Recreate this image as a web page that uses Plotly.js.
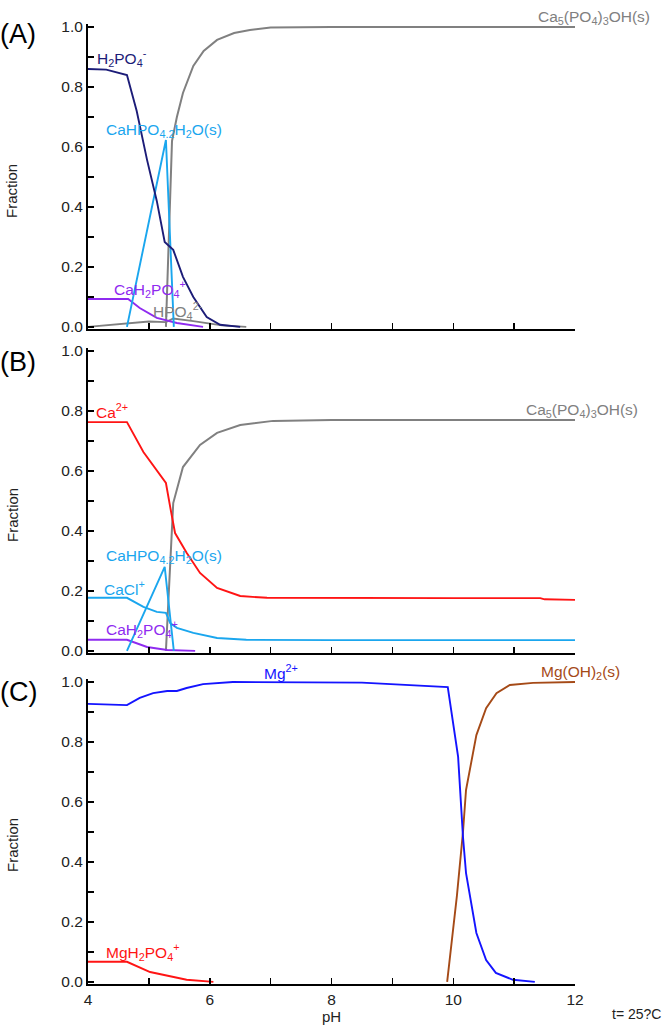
<!DOCTYPE html>
<html>
<head>
<meta charset="utf-8">
<script src="https://cdn.plot.ly/plotly-3.0.1.min.js"></script>
<style>html,body{margin:0;padding:0;background:#fff;}#chart{width:666px;height:1026px;}</style>
</head>
<body>
<div id="chart"></div>
<script>
// ---------- Panel A ----------
const aCa5pH   = [5.28, 5.33, 5.38, 5.46, 5.56, 5.73, 5.9, 6.12, 6.4, 6.66, 7.0, 8, 10, 12];
const aCa5     = [0, 0.35, 0.62, 0.70, 0.78, 0.87, 0.92, 0.957, 0.98, 0.99, 0.998, 1.0, 1.0, 1.0];
const aH2PO4pH = [4, 4.3, 4.64, 4.80, 4.97, 5.13, 5.26, 5.40, 5.56, 5.73, 5.95, 6.17, 6.5];
const aH2PO4   = [0.86, 0.858, 0.84, 0.72, 0.557, 0.42, 0.283, 0.257, 0.167, 0.10, 0.033, 0.007, 0];
const aBrushpH = [4.64, 5.28, 5.41];
const aBrush   = [0, 0.623, 0];
const aCaH2pH  = [4, 4.66, 4.85, 5.13, 5.46, 5.89];
const aCaH2    = [0.093, 0.093, 0.063, 0.03, 0.013, 0];
const aHPO4pH  = [4, 4.64, 5.0, 5.28, 5.4, 5.7, 6.2, 6.6];
const aHPO4    = [0, 0.013, 0.018, 0.016, 0.028, 0.02, 0.005, 0];

// ---------- Panel B ----------
const bCapH    = [4, 4.64, 4.91, 5.13, 5.28, 5.35, 5.43, 5.62, 5.84, 6.12, 6.5, 6.94, 8, 10, 11.43, 11.5, 12];
const bCa      = [0.763, 0.763, 0.663, 0.603, 0.56, 0.48, 0.393, 0.327, 0.26, 0.21, 0.183, 0.177, 0.176, 0.176, 0.176, 0.172, 0.17];
const bCa5pH   = [5.28, 5.34, 5.40, 5.56, 5.84, 6.12, 6.5, 7.04, 8, 10, 12];
const bCa5     = [0, 0.25, 0.493, 0.613, 0.687, 0.727, 0.753, 0.767, 0.77, 0.77, 0.77];
const bBrushpH = [4.64, 5.26, 5.41];
const bBrush   = [0, 0.28, 0];
const bCaClpH  = [4, 4.64, 4.91, 5.13, 5.28, 5.35, 5.46, 5.73, 6.12, 6.6, 8, 12];
const bCaCl    = [0.177, 0.177, 0.147, 0.13, 0.127, 0.093, 0.077, 0.06, 0.043, 0.037, 0.036, 0.036];
const bCaH2pH  = [4, 4.64, 4.97, 5.3, 5.76];
const bCaH2    = [0.037, 0.037, 0.013, 0.003, 0];

// ---------- Panel C ----------
const cMgpH    = [4, 4.64, 4.85, 5.07, 5.3, 5.46, 5.62, 5.89, 6.38, 7, 8, 8.5, 9.91, 10.08, 10.16, 10.21, 10.38, 10.54, 10.70, 10.98, 11.34];
const cMg      = [0.927, 0.923, 0.947, 0.963, 0.97, 0.97, 0.98, 0.993, 1.0, 1.0, 1.0, 0.998, 0.983, 0.75, 0.483, 0.363, 0.163, 0.073, 0.03, 0.007, 0];
const cMgOHpH  = [9.90, 10.06, 10.16, 10.21, 10.38, 10.54, 10.71, 10.93, 11.31, 12];
const cMgOH    = [0, 0.287, 0.5, 0.64, 0.823, 0.913, 0.963, 0.99, 0.997, 1.0];
const cMgH2pH  = [4, 4.64, 5.02, 5.3, 5.62, 6.06];
const cMgH2    = [0.067, 0.067, 0.033, 0.02, 0.007, 0];

const xTickVals = [4, 6, 8, 10, 12];
const xTickText = ['4', '6', '8', '10', '12'];
const yTickVals = [0, 0.2, 0.4, 0.6, 0.8, 1.0];
const yTickText = ['0.0', '0.2', '0.4', '0.6', '0.8', '1.0'];

const NAVY = '#1c1c78', SKY = '#1aa6ee', PURPLE = '#8f2bf0', GRAY = '#808080',
      RED = '#ff1414', BLUE = '#1414ff', BROWN = '#a54a17';
const FONT = 'Liberation Sans, Arial, sans-serif';
const LBL = 15.5;

function line(x, y, color, xa, ya, w) {
  return {x: x, y: y, type: 'scatter', mode: 'lines', xaxis: xa, yaxis: ya,
          line: {color: color, width: w || 1.9}, hoverinfo: 'skip'};
}
const traces = [
  line(aHPO4pH, aHPO4, GRAY, 'x', 'y'),
  line(aCa5pH, aCa5, GRAY, 'x', 'y', 2),
  line(aCaH2pH, aCaH2, PURPLE, 'x', 'y'),
  line(aBrushpH, aBrush, SKY, 'x', 'y'),
  line(aH2PO4pH, aH2PO4, NAVY, 'x', 'y'),

  line(bCa5pH, bCa5, GRAY, 'x2', 'y2', 2),
  line(bCaH2pH, bCaH2, PURPLE, 'x2', 'y2'),
  line(bCaClpH, bCaCl, SKY, 'x2', 'y2'),
  line(bBrushpH, bBrush, SKY, 'x2', 'y2'),
  line(bCapH, bCa, RED, 'x2', 'y2'),

  line(cMgH2pH, cMgH2, RED, 'x3', 'y3'),
  line(cMgOHpH, cMgOH, BROWN, 'x3', 'y3'),
  line(cMgpH, cMg, BLUE, 'x3', 'y3')
];

const W = 666, H = 1026;
const px = v => v / W, py = v => 1 - v / H;
const xDom = [px(88), px(575)];

function xaxis(anchor, labels) {
  return {domain: xDom, anchor: anchor, range: [4, 12], showline: true, linecolor: '#000', linewidth: 2,
    ticks: 'inside', ticklen: 6, tickwidth: 1.5, tickcolor: '#000', showgrid: false, zeroline: false,
    tickvals: xTickVals, ticktext: xTickText, showticklabels: labels,
    tickfont: {family: FONT, size: 15.5, color: '#222'},
    minor: {dtick: 1, tick0: 4, ticks: 'inside', ticklen: 6, tickwidth: 1.5, tickcolor: '#000', showgrid: false},
    fixedrange: true};
}
function yaxis(anchor, top, bottom) {
  return {domain: [py(bottom), py(top)], anchor: anchor, range: [-0.007, 1.01], showline: true,
    linecolor: '#000', linewidth: 2, ticks: 'inside', ticklen: 6, tickwidth: 1.5, tickcolor: '#000',
    showgrid: false, zeroline: false, tickvals: yTickVals, ticktext: yTickText,
    tickfont: {family: FONT, size: 15.5, color: '#222'},
    minor: {dtick: 0.1, tick0: 0, ticks: 'inside', ticklen: 6, tickwidth: 1.5, tickcolor: '#000', showgrid: false},
    fixedrange: true};
}

function ann(text, x, y, color, size, xanchor, extra) {
  return Object.assign({text: text, xref: 'paper', yref: 'paper', x: px(x), y: py(y),
    xanchor: xanchor || 'left', yanchor: 'middle', showarrow: false,
    font: {family: FONT, size: size || LBL, color: color}}, extra || {});
}

const annotations = [
  ann('(A)', -2, 34, '#000', 27),
  ann('(B)', -2, 362, '#000', 27),
  ann('(C)', -2, 692, '#000', 27),
  ann('Fraction', 12, 191, '#222', 15, 'center', {textangle: -90}),
  ann('Fraction', 12, 515, '#222', 15, 'center', {textangle: -90}),
  ann('Fraction', 12, 845, '#222', 15, 'center', {textangle: -90}),
  ann('pH', 331, 1016, '#222', 15, 'center'),
  ann('t= 25?C', 663, 1014, '#222', 14, 'right'),

  ann('H<sub>2</sub>PO<sub>4</sub><sup>-</sup>', 95, 58, NAVY),
  ann('CaHPO<sub>4.2</sub>H<sub>2</sub>O(s)', 104, 131, SKY),
  ann('CaH<sub>2</sub>PO<sub>4</sub><sup>+</sup>', 112, 289, PURPLE),
  ann('HPO<sub>4</sub><sup>2-</sup>', 151, 311, GRAY),
  ann('Ca<sub>5</sub>(PO<sub>4</sub>)<sub>3</sub>OH(s)', 536, 17, GRAY),

  ann('Ca<sup>2+</sup>', 94, 411, RED),
  ann('Ca<sub>5</sub>(PO<sub>4</sub>)<sub>3</sub>OH(s)', 524, 410, GRAY),
  ann('CaHPO<sub>4.2</sub>H<sub>2</sub>O(s)', 104, 556, SKY),
  ann('CaCl<sup>+</sup>', 102, 588, SKY),
  ann('CaH<sub>2</sub>PO<sub>4</sub><sup>+</sup>', 104, 629, PURPLE),

  ann('Mg<sup>2+</sup>', 262, 672, BLUE),
  ann('Mg(OH)<sub>2</sub>(s)', 539, 672, BROWN),
  ann('MgH<sub>2</sub>PO<sub>4</sub><sup>+</sup>', 104, 952, RED)
];

const layout = {
  width: W, height: H, margin: {l: 0, r: 0, t: 0, b: 0}, showlegend: false,
  paper_bgcolor: '#fff', plot_bgcolor: '#fff',
  xaxis: xaxis('y', false), yaxis: yaxis('x', 24, 329),
  xaxis2: xaxis('y2', false), yaxis2: yaxis('x2', 348, 653),
  xaxis3: xaxis('y3', true), yaxis3: yaxis('x3', 679, 984),
  annotations: annotations
};

Plotly.newPlot('chart', traces, layout, {displayModeBar: false, staticPlot: true});
</script>
</body>
</html>
